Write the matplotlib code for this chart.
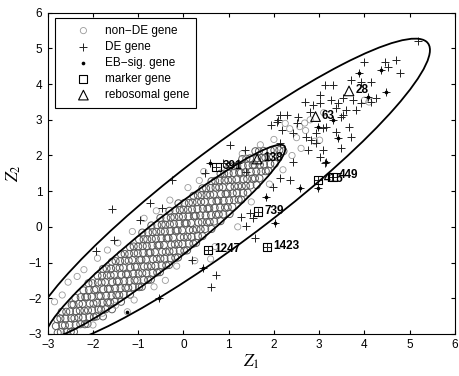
import numpy as np
import matplotlib.pyplot as plt
from matplotlib.patches import Ellipse

plt.rcParams['font.family'] = ['Liberation Sans', 'DejaVu Sans']
plt.rcParams['mathtext.fontset'] = 'stix'

# non-DE genes, dense band along the diagonal
non_de_core = [
    (-2.78, -2.97), (-2.82, -2.78), (-2.79, -2.59),
    (-2.71, -2.95), (-2.68, -2.76), (-2.72, -2.57), (-2.69, -2.38),
    (-2.58, -2.95), (-2.62, -2.76), (-2.61, -2.57), (-2.59, -2.38),
    (-2.49, -2.94), (-2.52, -2.75), (-2.48, -2.56), (-2.51, -2.37), (-2.47, -2.18),
    (-2.42, -2.94), (-2.38, -2.75), (-2.41, -2.56), (-2.37, -2.37), (-2.43, -2.18), (-2.39, -1.99),
    (-2.28, -2.73), (-2.32, -2.54), (-2.29, -2.35), (-2.31, -2.16), (-2.27, -1.97),
    (-2.18, -2.73), (-2.22, -2.54), (-2.19, -2.35), (-2.23, -2.16), (-2.17, -1.97), (-2.21, -1.78),
    (-2.12, -2.72), (-2.08, -2.53), (-2.11, -2.34), (-2.07, -2.15), (-2.13, -1.96), (-2.09, -1.77), (-2.10, -1.58),
    (-1.98, -2.53), (-2.02, -2.34), (-1.99, -2.15), (-2.03, -1.96), (-1.97, -1.77), (-2.01, -1.58),
    (-1.92, -2.51), (-1.88, -2.32), (-1.91, -2.13), (-1.87, -1.94), (-1.93, -1.75), (-1.89, -1.56), (-1.90, -1.37),
    (-1.78, -2.51), (-1.82, -2.32), (-1.79, -2.13), (-1.83, -1.94), (-1.77, -1.75), (-1.81, -1.56), (-1.80, -1.37), (-1.78, -1.18),
    (-1.72, -2.31), (-1.68, -2.12), (-1.71, -1.93), (-1.67, -1.74), (-1.73, -1.55), (-1.69, -1.36), (-1.70, -1.17),
    (-1.58, -2.31), (-1.62, -2.12), (-1.59, -1.93), (-1.63, -1.74), (-1.57, -1.55), (-1.61, -1.36), (-1.60, -1.17), (-1.58, -0.98),
    (-1.52, -2.10), (-1.48, -1.91), (-1.51, -1.72), (-1.47, -1.53), (-1.53, -1.34), (-1.49, -1.15), (-1.50, -0.96),
    (-1.38, -2.10), (-1.42, -1.91), (-1.39, -1.72), (-1.43, -1.53), (-1.37, -1.34), (-1.41, -1.15), (-1.40, -0.96), (-1.38, -0.77),
    (-1.32, -1.90), (-1.28, -1.71), (-1.31, -1.52), (-1.27, -1.33), (-1.33, -1.14), (-1.29, -0.95), (-1.30, -0.76),
    (-1.18, -1.90), (-1.22, -1.71), (-1.19, -1.52), (-1.23, -1.33), (-1.17, -1.14), (-1.21, -0.95), (-1.20, -0.76), (-1.18, -0.57),
    (-1.12, -1.69), (-1.08, -1.50), (-1.11, -1.31), (-1.07, -1.12), (-1.13, -0.93), (-1.09, -0.74), (-1.10, -0.55),
    (-0.98, -1.69), (-1.02, -1.50), (-0.99, -1.31), (-1.03, -1.12), (-0.97, -0.93), (-1.01, -0.74), (-1.00, -0.55), (-0.98, -0.36),
    (-0.92, -1.68), (-0.88, -1.49), (-0.91, -1.30), (-0.87, -1.11), (-0.93, -0.92), (-0.89, -0.73), (-0.90, -0.54), (-0.88, -0.35), (-0.91, -0.16),
    (-0.78, -1.49), (-0.82, -1.30), (-0.79, -1.11), (-0.83, -0.92), (-0.77, -0.73), (-0.81, -0.54), (-0.80, -0.35), (-0.78, -0.16),
    (-0.72, -1.48), (-0.68, -1.29), (-0.71, -1.10), (-0.67, -0.91), (-0.73, -0.72), (-0.69, -0.53), (-0.70, -0.34), (-0.68, -0.15), (-0.71, 0.04),
    (-0.58, -1.28), (-0.62, -1.09), (-0.59, -0.90), (-0.63, -0.71), (-0.57, -0.52), (-0.61, -0.33), (-0.60, -0.14), (-0.58, 0.05),
    (-0.52, -1.27), (-0.48, -1.08), (-0.51, -0.89), (-0.47, -0.70), (-0.53, -0.51), (-0.49, -0.32), (-0.50, -0.13), (-0.48, 0.06), (-0.51, 0.25),
    (-0.38, -1.08), (-0.42, -0.89), (-0.39, -0.70), (-0.43, -0.51), (-0.37, -0.32), (-0.41, -0.13), (-0.40, 0.06), (-0.38, 0.25),
    (-0.32, -1.07), (-0.28, -0.88), (-0.31, -0.69), (-0.27, -0.50), (-0.33, -0.31), (-0.29, -0.12), (-0.30, 0.07), (-0.28, 0.26), (-0.31, 0.45),
    (-0.18, -0.87), (-0.22, -0.68), (-0.19, -0.49), (-0.23, -0.30), (-0.17, -0.11), (-0.21, 0.08), (-0.20, 0.27), (-0.18, 0.46),
    (-0.12, -0.86), (-0.08, -0.67), (-0.11, -0.48), (-0.07, -0.29), (-0.13, -0.10), (-0.09, 0.09), (-0.10, 0.28), (-0.08, 0.47), (-0.11, 0.66),
    (0.02, -0.67), (-0.02, -0.48), (0.01, -0.29), (-0.03, -0.10), (0.03, 0.10), (-0.01, 0.29), (0.00, 0.48), (0.02, 0.67),
    (0.08, -0.66), (0.12, -0.47), (0.09, -0.28), (0.13, -0.09), (0.07, 0.10), (0.11, 0.29), (0.10, 0.48), (0.12, 0.67),
    (0.22, -0.47), (0.18, -0.28), (0.21, -0.09), (0.17, 0.11), (0.23, 0.30), (0.19, 0.49), (0.20, 0.68), (0.22, 0.87),
    (0.28, -0.45), (0.32, -0.26), (0.29, -0.07), (0.33, 0.12), (0.27, 0.31), (0.31, 0.50), (0.30, 0.69), (0.32, 0.88),
    (0.42, -0.26), (0.38, -0.07), (0.41, 0.13), (0.37, 0.32), (0.43, 0.51), (0.39, 0.70), (0.40, 0.89), (0.42, 1.08),
    (0.48, -0.06), (0.52, 0.13), (0.49, 0.32), (0.53, 0.51), (0.47, 0.70), (0.51, 0.89), (0.50, 1.08),
    (0.62, -0.06), (0.58, 0.14), (0.61, 0.33), (0.57, 0.52), (0.63, 0.71), (0.59, 0.90), (0.60, 1.09), (0.62, 1.28),
    (0.68, 0.15), (0.72, 0.34), (0.69, 0.53), (0.73, 0.72), (0.67, 0.91), (0.71, 1.10), (0.70, 1.29),
    (0.82, 0.16), (0.78, 0.35), (0.81, 0.54), (0.77, 0.73), (0.83, 0.92), (0.79, 1.11), (0.80, 1.30), (0.82, 1.49),
    (0.88, 0.35), (0.92, 0.54), (0.89, 0.73), (0.93, 0.92), (0.87, 1.11), (0.91, 1.30), (0.90, 1.49),
    (1.02, 0.36), (0.98, 0.55), (1.01, 0.74), (0.97, 0.93), (1.03, 1.12), (0.99, 1.31), (1.00, 1.50), (1.02, 1.69),
    (1.08, 0.56), (1.12, 0.75), (1.09, 0.94), (1.13, 1.13), (1.07, 1.32), (1.11, 1.51), (1.10, 1.70),
    (1.22, 0.76), (1.18, 0.95), (1.21, 1.14), (1.17, 1.33), (1.23, 1.52), (1.19, 1.71),
    (1.28, 0.76), (1.32, 0.95), (1.29, 1.14), (1.33, 1.33), (1.27, 1.52), (1.31, 1.71), (1.30, 1.90),
    (1.42, 0.96), (1.38, 1.15), (1.41, 1.34), (1.37, 1.53), (1.43, 1.72), (1.39, 1.91),
    (1.48, 1.16), (1.52, 1.35), (1.49, 1.54), (1.53, 1.73), (1.47, 1.92),
    (1.62, 1.17), (1.58, 1.36), (1.61, 1.55), (1.57, 1.74), (1.63, 1.93), (1.59, 2.12),
    (1.68, 1.36), (1.72, 1.55), (1.69, 1.74), (1.73, 1.93), (1.67, 2.12),
    (1.82, 1.56), (1.78, 1.75), (1.81, 1.94), (1.77, 2.13),
    (1.88, 1.57), (1.92, 1.76), (1.89, 1.95), (1.93, 2.14),
    (2.02, 1.77), (1.98, 1.96), (2.01, 2.15),
    (2.08, 1.96), (2.12, 2.15), (2.21, 2.12),
]
# sparser non-DE genes outside the inner ellipse
non_de_fringe = [
    (-2.35, -1.39), (-2.68, -1.91), (-2.85, -2.10), (-2.55, -1.55), (-2.20, -1.20), (-1.90, -0.88),
    (-1.68, -0.65), (-1.45, -0.45), (-1.13, -0.13), (-0.87, 0.24), (-0.60, 0.45), (-0.30, 0.75),
    (0.10, 1.10), (0.35, 1.30), (0.45, 1.55), (-1.79, -2.42), (-1.24, -2.38), (-1.09, -2.05),
    (-0.65, -1.68), (-1.50, -2.20), (-2.00, -2.75), (-0.40, -1.50), (-0.15, -1.10), (0.25, -0.95),
    (0.60, -0.90), (0.70, -0.55), (1.20, 0.00), (1.50, 0.70), (1.90, 1.20), (2.20, 1.60),
    (2.40, 2.00), (2.50, 2.50), (2.70, 2.70), (2.35, 2.75), (2.80, 3.00), (2.60, 2.20),
    (2.90, 2.40), (2.00, 2.45), (1.70, 2.30), (1.30, 2.05), (3.10, 3.20), (2.25, 2.90),
    (2.57, 2.81), (3.01, 2.43), (2.68, 2.91), (4.00, 3.55), (4.10, 3.50),
]

# DE genes
de_genes = [
    (5.18, 5.22), (4.00, 4.63), (4.45, 4.63), (4.70, 4.69), (4.52, 4.49), (4.37, 4.39), (3.89, 4.30),
    (4.78, 4.30), (3.71, 4.11), (3.93, 4.07), (4.15, 4.07), (4.48, 3.79), (4.08, 3.65), (4.26, 3.60),
    (4.15, 3.51), (3.93, 3.46), (3.75, 3.55), (3.53, 3.60), (3.30, 3.97), (3.12, 3.97), (3.01, 3.69),
    (3.27, 3.55), (2.68, 3.51), (2.86, 3.41), (3.38, 3.32), (3.60, 3.27), (3.82, 3.27), (2.79, 3.23),
    (3.30, 3.00), (3.49, 3.09), (2.97, 2.81), (3.16, 2.81), (3.67, 2.81), (3.71, 2.53), (3.38, 2.67),
    (3.42, 2.48), (2.72, 2.53), (2.94, 2.34), (3.49, 2.20), (3.08, 2.15), (3.01, 1.97), (3.12, 1.78),
    (2.97, 1.08), (3.01, 3.46), (3.42, 3.46), (3.53, 3.13), (3.08, 2.76), (2.94, 2.62), (2.83, 2.43),
    (2.75, 2.15), (3.16, 1.83), (2.57, 1.08), (2.13, 3.13), (2.06, 2.95), (1.94, 2.85), (2.17, 2.71),
    (2.28, 3.13), (2.53, 3.09), (2.50, 2.90), (2.42, 2.62), (2.13, 2.34), (1.03, 2.29), (0.58, 1.78),
    (0.88, 1.78), (1.21, 1.78), (1.39, 1.55), (2.42, 1.83), (2.13, 1.36), (2.35, 1.31), (1.98, 1.13),
    (1.83, 0.85), (1.47, 0.38), (1.39, 0.01), (1.54, 0.24), (2.02, 0.10), (1.58, -0.32), (0.18, -0.93),
    (0.43, -1.16), (0.73, -1.35), (1.28, 0.29), (1.36, 2.15), (0.47, 1.50), (2.09, 2.99),
    (-1.57, 0.49), (-0.73, 0.66), (-0.47, 0.52), (-0.95, 0.19), (-1.54, -0.37), (-1.94, -0.69),
    (-0.54, -2.00), (-0.26, 1.31), (0.62, -1.68),
    (0.73, 1.69), (1.65, 0.43), (0.55, -0.65), (1.85, -0.56), (2.97, 1.31), (3.30, 1.40),
]

# EB-significant genes
eb_sig = [
    (4.37, 4.39), (3.89, 4.30), (4.48, 3.79), (4.08, 3.65), (3.30, 3.00), (2.97, 2.81), (3.42, 2.48),
    (2.97, 1.08), (3.16, 1.83), (2.57, 1.08), (0.58, 1.78), (1.83, 0.85), (2.02, 0.10), (0.43, -1.16),
    (-0.54, -2.00), (-1.24, -2.38),
]

# marker genes and ribosomal genes with their ids
marker_ids = ['391', '739', '1247', '1423', '415', '449']
marker_x = [0.73, 1.65, 0.55, 1.85, 2.97, 3.30]
marker_y = [1.69, 0.43, -0.65, -0.56, 1.31, 1.40]
ribo_ids = ['138', '63', '28']
ribo_x = [1.63, 2.92, 3.66]
ribo_y = [1.90, 3.09, 3.81]

# ellipses: centre x, centre y, full width, full height, angle (deg)
ellipse_inner = (-0.39, -0.40, 7.48, 1.08, 45.66)
ellipse_outer = (1.01, 0.94, 12.18, 2.38, 44.27)

core = np.array(non_de_core)
fringe = np.array(non_de_fringe)
de = np.array(de_genes)
eb = np.array(eb_sig)

fig = plt.figure(figsize=(4.59, 3.76), dpi=100)
ax = fig.add_axes([0.104, 0.112, 0.887, 0.854])

ax.scatter(core[:, 0], core[:, 1], s=26, facecolors='none', edgecolors='#5c5c5c', linewidths=0.7)
h_non = ax.scatter(fringe[:, 0], fringe[:, 1], s=20, facecolors='none', edgecolors='#9a9a9a', linewidths=0.6)
h_de = ax.scatter(de[:, 0], de[:, 1], s=30, marker='+', color='#222222', linewidths=0.7)
h_eb = ax.scatter(eb[:, 0], eb[:, 1], s=7, marker='o', color='k', linewidths=0)

for cx, cy, w, h, ang in [ellipse_inner, ellipse_outer]:
    ax.add_patch(Ellipse((cx, cy), w, h, angle=ang, fill=False, color='k', lw=1.3))

h_mk = ax.scatter(marker_x, marker_y, s=34, marker='s', facecolors='none', edgecolors='k', linewidths=0.8)
h_rb = ax.scatter(ribo_x, ribo_y, s=48, marker='^', facecolors='none', edgecolors='k', linewidths=0.8)
for ids, xs, ys in [(marker_ids, marker_x, marker_y), (ribo_ids, ribo_x, ribo_y)]:
    for t, x, y in zip(ids, xs, ys):
        dy = 1.5 if t == '449' else 0.5
        ax.annotate(t, (x, y), xytext=(4.5, dy), textcoords='offset points',
                    fontsize=8.5, fontweight='bold', va='center', ha='left')

ax.set_xlim(-3, 6)
ax.set_ylim(-3, 6)
ax.set_xticks(range(-3, 7))
ax.set_yticks(range(-3, 7))
ax.tick_params(direction='in', length=3, width=0.8, top=True, right=True, labelsize=8.5, pad=4)
for sp in ax.spines.values():
    sp.set_linewidth(0.8)
ax.set_xlabel(r'$Z_1$', fontsize=12.5, labelpad=1)
ax.set_ylabel(r'$Z_2$', fontsize=12.5, labelpad=4)

leg = ax.legend([h_non, h_de, h_eb, h_mk, h_rb],
                ['non\u2212DE gene', 'DE gene', 'EB\u2212sig. gene', 'marker gene', 'rebosomal gene'],
                loc='upper left', bbox_to_anchor=(0.018, 0.985), borderaxespad=0,
                fontsize=8.5, fancybox=False, framealpha=1, edgecolor='k',
                borderpad=0.6, handlelength=3.6, handletextpad=0.0, labelspacing=0.35,
                scatterpoints=1)
leg.get_frame().set_linewidth(0.8)

fig.savefig('out.png', dpi=100)
